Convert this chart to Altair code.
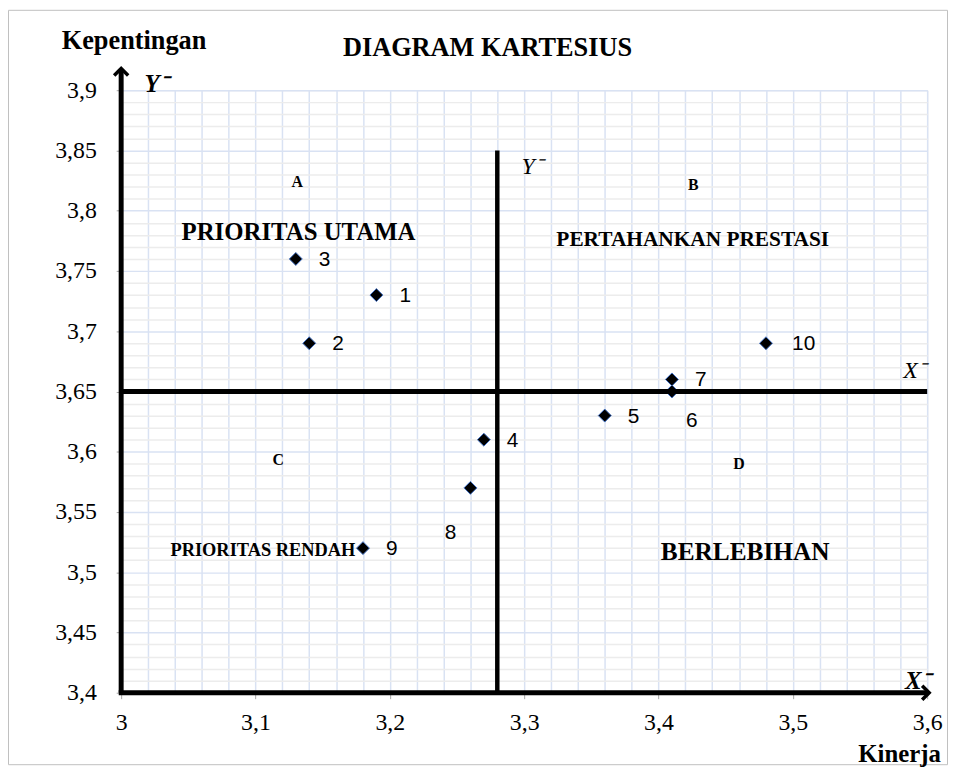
import altair as alt
import pandas as pd

# ---- data ----
nomor = ["1", "2", "3", "4", "5", "6", "7", "8", "9", "10"]
kinerja = [3.19, 3.14, 3.13, 3.27, 3.36, 3.41, 3.41, 3.26, 3.18, 3.48]
kepentingan = [3.73, 3.69, 3.76, 3.61, 3.63, 3.65, 3.66, 3.57, 3.52, 3.69]

rata_kinerja = 3.28      # X-bar (vertical divider)
rata_kepentingan = 3.65  # Y-bar (horizontal divider)
batas_atas_garis = 3.85

x_min, x_max = 3.0, 3.6
y_min, y_max = 3.4, 3.9

x_ticks = [round(3.0 + 0.02 * i, 2) for i in range(31)]
y_ticks = [round(3.4 + 0.01 * i, 2) for i in range(51)]

kuadran_teks = ["A", "PRIORITAS UTAMA", "B", "PERTAHANKAN PRESTASI",
                "C", "PRIORITAS RENDAH", "D", "BERLEBIHAN"]
kuadran_x = [3.131, 3.132, 3.426, 3.4255, 3.117, 3.1055, 3.460, 3.4645]
kuadran_y = [3.824, 3.782, 3.821, 3.776, 3.593, 3.518, 3.590, 3.517]
kuadran_size = [16, 25, 16, 21.5, 16, 18.5, 16, 25.5]

df = pd.DataFrame({"no": nomor, "x": kinerja, "y": kepentingan})
df_q = pd.DataFrame({"t": kuadran_teks, "x": kuadran_x, "y": kuadran_y, "s": kuadran_size})

xs = alt.Scale(domain=[x_min, x_max], nice=False, zero=False)
ys = alt.Scale(domain=[y_min, y_max], nice=False, zero=False)

fmt = "replace(format(datum.value, '.2~f'), '.', ',')"

x_axis = alt.Axis(
    values=x_ticks, title=None, domain=False,
    labelExpr=f"round(datum.value*100) % 10 == 0 ? {fmt} : ''",
    labelOverlap=False, labelFont="Liberation Serif", labelFontSize=24,
    labelColor="black", labelPadding=12, labelFlush=False,
    tickSize=6, tickColor="#a6a6a6",
    tickOpacity={"condition": {"test": "round(datum.value*100) % 10 != 0", "value": 0}, "value": 1},
    grid=True, gridColor="#d9e2f3", gridWidth=1.5,
)
y_axis = alt.Axis(
    values=y_ticks, title=None, domain=False,
    labelExpr=f"round(datum.value*100) % 5 == 0 ? {fmt} : ''",
    labelOverlap=False, labelFont="Liberation Serif", labelFontSize=24,
    labelColor="black", labelPadding=20, labelFlush=False,
    tickSize=5, tickColor="#a6a6a6",
    tickOpacity={"condition": {"test": "round(datum.value*100) % 5 != 0", "value": 0}, "value": 1},
    grid=True, gridWidth=1.5,
    gridColor={"condition": {"test": "round(datum.value*100) % 5 == 0", "value": "#d9e2f3"},
               "value": "#ececec"},
)

X = lambda f: alt.X(f, scale=xs, axis=x_axis)
Y = lambda f: alt.Y(f, scale=ys, axis=y_axis)

base = alt.Chart(df)

points = base.mark_point(shape="diamond", filled=True, size=170, fill="black",
                         stroke="#4472c4", strokeWidth=1, opacity=1).encode(
    x=X("x:Q"), y=Y("y:Q"))

def lbl(filt, dx, dy):
    return base.transform_filter(filt).mark_text(
        font="Liberation Sans", fontSize=21, align="center", baseline="middle", dx=dx, dy=dy
    ).encode(x=X("x:Q"), y=Y("y:Q"), text="no:N")

lbl_normal = lbl("datum.no != '6' && datum.no != '8' && datum.no != '10'", 29, 1)
lbl_10 = lbl("datum.no == '10'", 38, 1)
lbl_6 = lbl("datum.no == '6'", 20, 30)
lbl_8 = lbl("datum.no == '8'", -20, 46)

one = alt.Chart(pd.DataFrame({"d": [0]}))

def dx_(v):
    return alt.datum(v, scale=xs, axis=x_axis)

def dy_(v):
    return alt.datum(v, scale=ys, axis=y_axis)

# divider lines
v_div = one.mark_rule(color="black", strokeWidth=4.5).encode(
    x=dx_(rata_kinerja), y=dy_(y_min), y2=alt.datum(batas_atas_garis))
h_div = one.mark_rule(color="black", strokeWidth=5).encode(
    y=dy_(rata_kepentingan), x=dx_(x_min), x2=alt.datum(x_max))

# main axes with arrows
y_line = one.mark_rule(color="black", strokeWidth=5, clip=False).encode(
    x=dx_(x_min), y=dy_(y_min), y2=alt.datum(3.917))
x_line = one.mark_rule(color="black", strokeWidth=5, clip=False).encode(
    y=dy_(y_min), x=dx_(x_min - 0.0018), x2=alt.datum(x_max + 0.001))
up_arrow = one.mark_point(shape="M-1,1L0,0L1,1", size=200, filled=False, stroke="black",
                          strokeWidth=3.5, opacity=1, clip=False).encode(
    x=dx_(x_min), y=dy_(3.918))
right_arrow = one.mark_point(shape="M-1,-1L0,0L-1,1", size=200, filled=False, stroke="black",
                             strokeWidth=3.5, opacity=1, clip=False).encode(
    x=dx_(x_max + 0.0015), y=dy_(y_min))

quad = alt.Chart(df_q).mark_text(font="Liberation Serif", fontWeight="bold",
                                 align="center", baseline="middle").encode(
    x=X("x:Q"), y=Y("y:Q"), text="t:N",
    size=alt.Size("s:Q", scale=None, legend=None))

def txt(t, x, y, size, weight="bold", style="normal"):
    return one.mark_text(text=t, font="Liberation Serif", fontSize=size, fontWeight=weight,
                         fontStyle=style, align="center", baseline="middle", clip=False).encode(
        x=dx_(x), y=dy_(y))

judul = txt("DIAGRAM KARTESIUS", 3.2727, 3.9354, 26.5)
kep = txt("Kepentingan", 3.0096, 3.941, 26.5)
kin = txt("Kinerja", 3.5795, 3.3495, 25)
ybar_top = txt("Y\u207b", 3.026, 3.905, 25, weight="bold", style="italic")
ybar_mid = txt("Y\u207b", 3.306, 3.8366, 24, weight="normal", style="italic")
xbar_mid = txt("X\u207b", 3.5905, 3.667, 24, weight="normal", style="italic")
xbar_bot = txt("X\u207b", 3.5927, 3.41, 25, weight="bold", style="italic")

border = one.mark_rect(fill=None, stroke="#bfbfbf", strokeWidth=1, clip=False).encode(
    x=alt.value(-113.5), x2=alt.value(832.5), y=alt.value(-80.5), y2=alt.value(679.5))

chart = alt.layer(
    points, border, v_div, h_div, y_line, x_line, up_arrow, right_arrow,
    lbl_normal, lbl_10, lbl_6, lbl_8, quad,
    judul, kep, kin, ybar_top, ybar_mid, xbar_mid, xbar_bot,
).properties(
    width=812, height=607,
    autosize=alt.AutoSizeParams(type="none"),
    padding={"left": 114, "top": 80, "right": 22, "bottom": 74},
).configure_view(stroke=None).configure(background="white")

chart.save("out.html", embed_options={"renderer": "svg", "actions": False})
